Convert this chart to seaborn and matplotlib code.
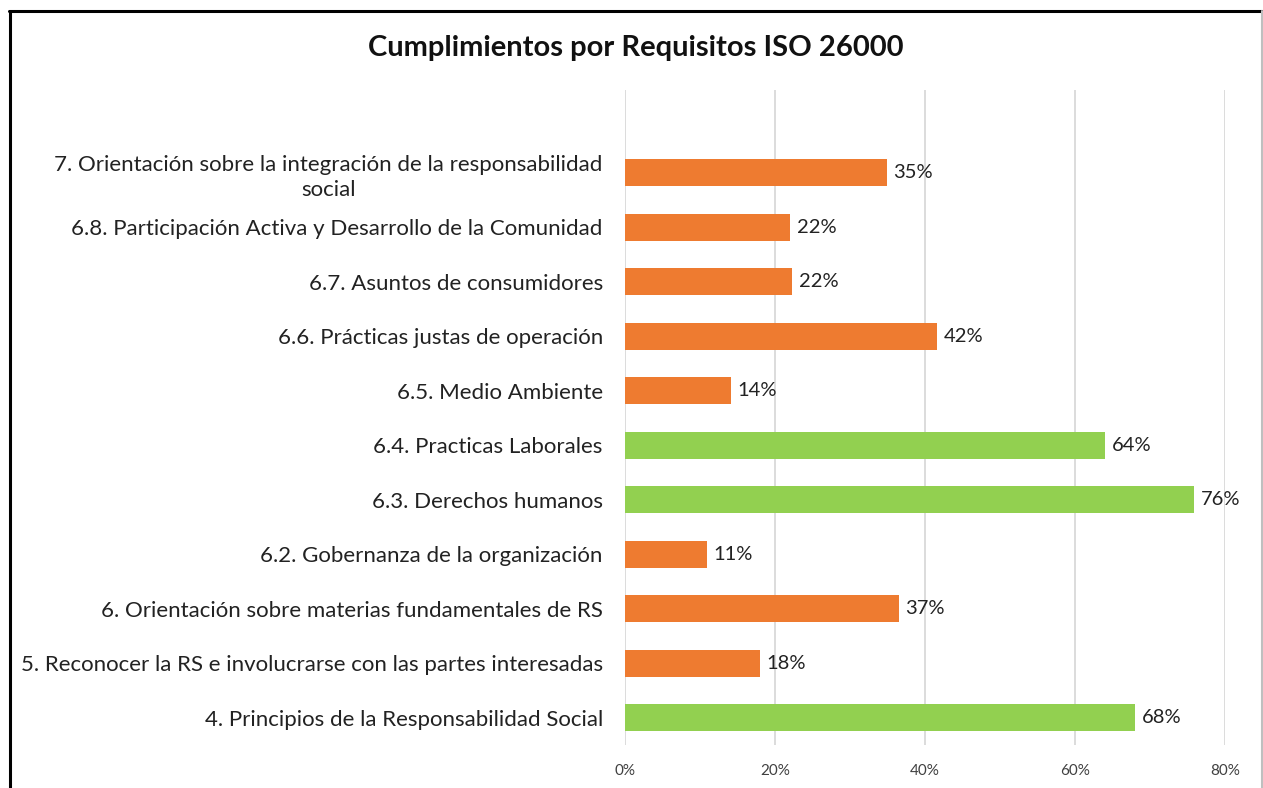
import pandas as pd
import matplotlib.pyplot as plt
import seaborn as sns
from matplotlib.lines import Line2D
from matplotlib.ticker import PercentFormatter

# datos (de arriba hacia abajo)
requisitos = [
    "7. Orientación sobre la integración de la responsabilidad\nsocial",
    "6.8. Participación Activa y Desarrollo de la Comunidad",
    "6.7. Asuntos de consumidores",
    "6.6. Prácticas justas de operación",
    "6.5. Medio Ambiente",
    "6.4. Practicas Laborales",
    "6.3. Derechos humanos",
    "6.2. Gobernanza de la organización",
    "6. Orientación sobre materias fundamentales de RS",
    "5. Reconocer la RS e involucrarse con las partes interesadas",
    "4. Principios de la Responsabilidad Social",
]
cumplimiento = [0.349, 0.22, 0.223, 0.416, 0.141, 0.64, 0.759, 0.109, 0.365, 0.18, 0.68]
etiquetas = ["35%", "22%", "22%", "42%", "14%", "64%", "76%", "11%", "37%", "18%", "68%"]
nivel = ["bajo", "bajo", "bajo", "bajo", "bajo", "alto", "alto", "bajo", "bajo", "bajo", "alto"]

df = pd.DataFrame({"req": requisitos, "valor": cumplimiento, "nivel": nivel})

sns.set_style("white")
plt.rcParams["font.family"] = ["Lato", "DejaVu Sans"]

fig = plt.figure(figsize=(12.63, 7.88), dpi=100)
ax = fig.add_axes([625 / 1263, 1 - 745 / 788, 600 / 1263, 655 / 788])

sns.barplot(data=df, x="valor", y="req", hue="nivel", orient="h",
            palette={"bajo": "#EE7B30", "alto": "#92D050"}, saturation=1,
            width=0.5, dodge=False, legend=False, ax=ax,
            edgecolor="none")

ax.set_xlim(0, 0.8)
ax.set_ylim(10.5, -1.52)
ax.set_xticks([0, 0.2, 0.4, 0.6, 0.8])
ax.xaxis.set_major_formatter(PercentFormatter(1.0, decimals=0))
ax.grid(axis="x", color="#D9D9D9", linewidth=1.3)
ax.set_axisbelow(True)
for s in ax.spines.values():
    s.set_visible(False)
ax.set_xlabel("")
ax.set_ylabel("")
ax.tick_params(axis="x", length=0, labelsize=11, labelcolor="#404040", pad=14)
ax.tick_params(axis="y", length=0, labelsize=16, labelcolor="#222222", pad=16)
for t in ax.get_yticklabels():
    t.set_multialignment("center")
    t.set_linespacing(1.3)

for i, (v, lab) in enumerate(zip(cumplimiento, etiquetas)):
    ax.text(v + 0.009, i, lab, va="center", ha="left", fontsize=14.5, color="#222222")

fig.suptitle("Cumplimientos por Requisitos ISO 26000", x=636 / 1263, y=1 - 48 / 788,
             va="center", fontsize=21, fontweight="bold", color="#111111")

# marco del gráfico
fig.add_artist(Line2D([9 / 1263, 1262 / 1263], [1 - 11 / 788] * 2,
                      transform=fig.transFigure, color="black", linewidth=2.2))
fig.add_artist(Line2D([10 / 1263] * 2, [0, 1 - 11 / 788],
                      transform=fig.transFigure, color="black", linewidth=2.2))
fig.add_artist(Line2D([1261.5 / 1263] * 2, [0, 1 - 11 / 788],
                      transform=fig.transFigure, color="#BFBFBF", linewidth=1.5))

fig.savefig("out.png", dpi=100)
